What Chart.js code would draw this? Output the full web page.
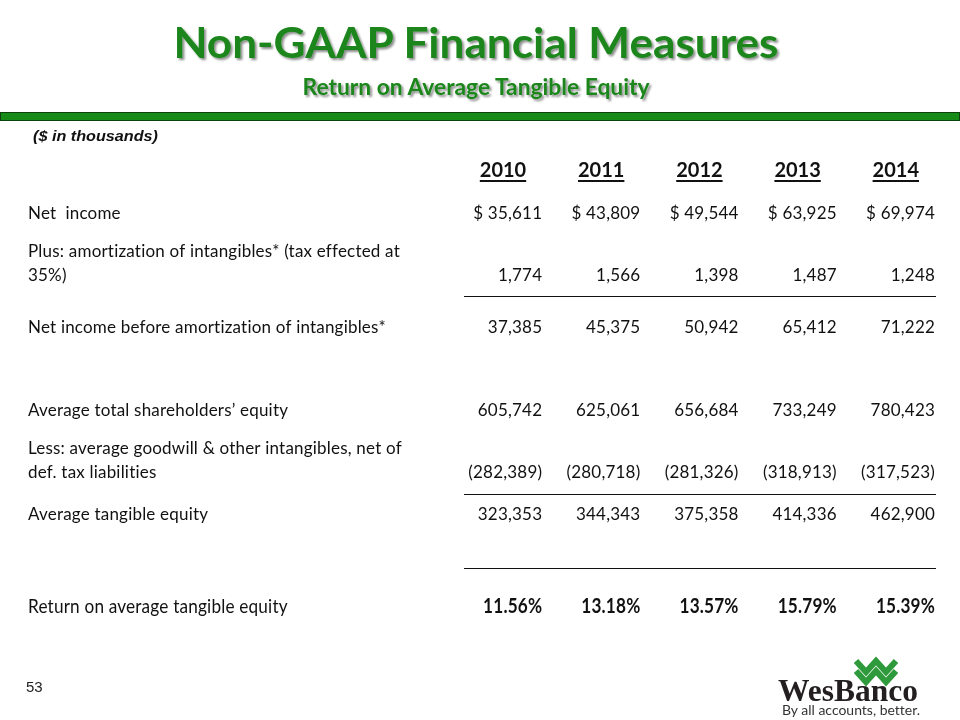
<!DOCTYPE html>
<html>
<head>
<meta charset="utf-8">
<title>Non-GAAP Financial Measures</title>
<script src="https://cdn.jsdelivr.net/npm/chart.js@4.4.0/dist/chart.umd.min.js"></script>
<style>
  html, body { margin: 0; padding: 0; background: #fff; }
  #page { position: relative; width: 960px; height: 720px; overflow: hidden; }
  #table { position: absolute; left: 0; top: 0; font-variant-ligatures: none; }
  #deco { position: absolute; left: 0; top: 0; font-variant-ligatures: none; }
  #bar { position: absolute; left: 0; top: 112px; width: 958px; height: 7px;
         background: #178a17; border: 1px solid #0c420c; }
</style>
</head>
<body>
<div id="page">
  <canvas id="table" width="960" height="720"></canvas>
  <div id="bar"></div>
  <svg id="deco" width="960" height="720" xmlns="http://www.w3.org/2000/svg">
    <defs>
      <filter id="shadow" x="-5%" y="-20%" width="110%" height="150%">
        <feDropShadow dx="2" dy="2" stdDeviation="1.2" flood-color="#000" flood-opacity="0.45"/>
      </filter>
    </defs>
    <text x="476" y="58" text-anchor="middle" font-family="Lato" font-weight="bold" font-size="42"
          textLength="605" lengthAdjust="spacingAndGlyphs" fill="#1a861a" filter="url(#shadow)">Non-GAAP Financial Measures</text>
    <text x="476" y="95" text-anchor="middle" font-family="Lato" font-weight="bold" font-size="22"
          textLength="347" lengthAdjust="spacingAndGlyphs" fill="#1a861a" filter="url(#shadow)">Return on Average Tangible Equity</text>
    <text x="33" y="141" font-family="Liberation Sans" font-weight="bold" font-style="italic" font-size="14"
          textLength="125" lengthAdjust="spacingAndGlyphs" fill="#111">($ in thousands)</text>
    <text x="26" y="692" font-family="Liberation Sans" font-size="15" fill="#222">53</text>
    <!-- logo -->
    <polyline points="856,661 866,672 876,661 886,672 896,661" fill="none" stroke="#2f9a3c" stroke-width="6" stroke-linejoin="miter"/>
    <polyline points="856,671 866,682 876,671 886,682 896,671" fill="none" stroke="#2f9a3c" stroke-width="6" stroke-linejoin="miter"/>
    <text x="778" y="701" font-family="Liberation Serif" font-weight="bold" font-size="32"
          textLength="140" lengthAdjust="spacingAndGlyphs" fill="#231f20">WesBanco</text>
    <text x="782" y="715" font-family="Lato" font-size="14"
          textLength="138" lengthAdjust="spacingAndGlyphs" fill="#333">By all accounts, better.</text>
  </svg>
</div>
<script>
// table data ($ in thousands)
const years = ["2010", "2011", "2012", "2013", "2014"];
const rowLabels = [
  ["Net  income"],
  ["Plus: amortization of intangibles* (tax effected at", "35%)"],
  ["Net income before amortization of intangibles*"],
  ["Average total shareholders\u2019 equity"],
  ["Less: average goodwill & other intangibles, net of", "def. tax liabilities"],
  ["Average tangible equity"],
  ["Return on average tangible equity"]
];
const netIncome = [35611, 43809, 49544, 63925, 69974];
const amortization = [1774, 1566, 1398, 1487, 1248];
const netIncomeBeforeAmort = [37385, 45375, 50942, 65412, 71222];
const avgShareholdersEquity = [605742, 625061, 656684, 733249, 780423];
const avgGoodwill = [-282389, -280718, -281326, -318913, -317523];
const avgTangibleEquity = [323353, 344343, 375358, 414336, 462900];
const returnOnTangibleEquity = [11.56, 13.18, 13.57, 15.79, 15.39];

const rowValues = [netIncome, amortization, netIncomeBeforeAmort, avgShareholdersEquity,
  avgGoodwill, avgTangibleEquity, returnOnTangibleEquity];

// layout of the table in half-line units (header baseline = 0)
const rowSlots = [4, 10, 15, 23, 29, 33, 42];
const ruleSlots = [11.46, 30.54, 37.67];

function fmt(v, row) {
  if (row === 6) return v.toFixed(2) + "%";
  const s = Math.abs(v).toLocaleString("en-US");
  if (v < 0) return "(" + s + ")";
  if (row === 0) return "$ " + s;
  return s;
}

const tableText = {
  id: "tableText",
  afterDatasetsDraw(chart) {
    const ctx = chart.ctx;
    const xs = chart.scales.x, ys = chart.scales.y;
    const half = (xs.getPixelForValue(1) - xs.getPixelForValue(0)) / 2;
    ctx.save();
    ctx.fillStyle = "#111";
    ctx.strokeStyle = "#111";
    ctx.textBaseline = "alphabetic";

    // year headers, bold + underlined
    ctx.font = "bold 20px Lato";
    ctx.textAlign = "right";
    const hy = ys.getPixelForValue(0);
    years.forEach((yr, j) => {
      const right = xs.getPixelForValue(j) + half - 17;
      const w = ctx.measureText(yr).width;
      ctx.fillText(yr, right, hy);
      ctx.lineWidth = 2;
      ctx.beginPath();
      ctx.moveTo(right - w, hy + 4);
      ctx.lineTo(right, hy + 4);
      ctx.stroke();
    });

    // rules
    ctx.lineWidth = 1;
    ruleSlots.forEach(s => {
      const y = Math.round(ys.getPixelForValue(s)) + 0.5;
      ctx.beginPath();
      ctx.moveTo(xs.left + 19, y);
      ctx.lineTo(xs.right, y);
      ctx.stroke();
    });

    // a little tracking also switches off the "ti" ligatures of Lato
    ctx.letterSpacing = "0.2px";

    // row labels and cell values
    chart.data.datasets.forEach((ds, i) => {
      const meta = chart.getDatasetMeta(i);
      const last = i === rowLabels.length - 1;
      const baseY = meta.data[0].y;

      ctx.textAlign = "left";
      ctx.font = last ? "20px Lato" : "17px Lato";
      const lines = rowLabels[i];
      lines.forEach((ln, k) => {
        const y = baseY - (lines.length - 1 - k) * 24;
        if (last) {
          ctx.save();
          ctx.translate(28, y);
          ctx.scale(0.86, 1);
          ctx.fillText(ln, 0, 0);
          ctx.restore();
        } else {
          ctx.fillText(ln, 28, y);
        }
      });

      ctx.textAlign = "right";
      ctx.font = last ? "bold 20px Lato" : "17px Lato";
      meta.data.forEach((el, j) => {
        const txt = fmt(ds.data[j].v, i);
        const x = el.x + half - 1;
        if (last) {
          ctx.save();
          ctx.translate(x, el.y);
          ctx.scale(0.86, 1);
          ctx.fillText(txt, 0, 0);
          ctx.restore();
        } else {
          ctx.fillText(txt, x, el.y);
        }
      });
    });
    ctx.restore();
  }
};

const datasets = rowValues.map((vals, i) => ({
  label: rowLabels[i].join(" "),
  data: vals.map((v, j) => ({ x: years[j], y: rowSlots[i], v: v })),
  pointRadius: 0
}));

new Chart(document.getElementById("table"), {
  type: "scatter",
  data: { datasets },
  options: {
    responsive: false,
    animation: false,
    layout: { padding: { left: 445, right: 24, top: 177, bottom: 107 } },
    plugins: { legend: { display: false }, tooltip: { enabled: false } },
    scales: {
      x: { type: "category", labels: years, offset: true, display: false },
      y: { type: "linear", min: 0, max: 42, reverse: true, display: false }
    }
  },
  plugins: [tableText]
});
</script>
</body>
</html>
